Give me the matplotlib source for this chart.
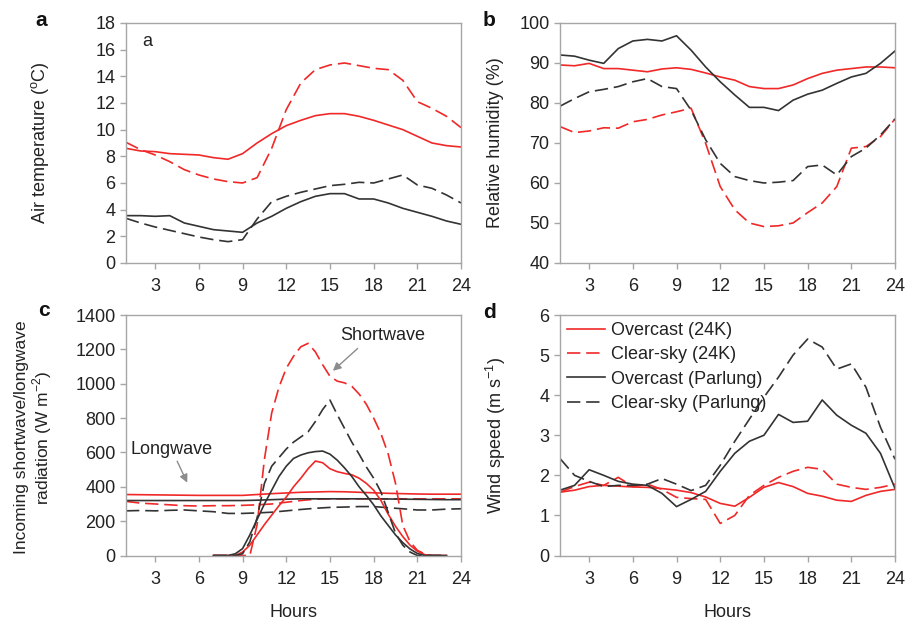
import numpy as np
import matplotlib
matplotlib.use("Agg")
import matplotlib.pyplot as plt

plt.rcParams['font.family'] = ['Liberation Sans', 'DejaVu Sans']
plt.rcParams['mathtext.fontset'] = 'custom'
plt.rcParams['mathtext.rm'] = 'Liberation Sans'

# hourly series, hours 1..24
hours = np.arange(1, 25)

# (a) air temperature, degC
ta_over_24k = [8.6, 8.4, 8.35, 8.2, 8.15, 8.1, 7.9, 7.78, 8.2, 9.0, 9.7, 10.3,
               10.7, 11.05, 11.2, 11.2, 11.0, 10.7, 10.35, 10.0, 9.5, 9.0, 8.8, 8.7]
ta_clear_24k = [9.05, 8.5, 8.1, 7.6, 7.0, 6.6, 6.3, 6.1, 6.0, 6.4, 8.6, 11.5,
                13.5, 14.5, 14.85, 15.0, 14.8, 14.6, 14.5, 13.7, 12.1, 11.6, 11.0, 10.15]
ta_over_parl = [3.55, 3.55, 3.5, 3.55, 3.0, 2.75, 2.5, 2.4, 2.3, 3.0, 3.5, 4.1,
                4.6, 5.0, 5.2, 5.2, 4.8, 4.8, 4.5, 4.1, 3.8, 3.5, 3.15, 2.9]
ta_clear_parl = [3.35, 3.0, 2.7, 2.45, 2.2, 1.95, 1.75, 1.6, 1.75, 3.3, 4.6, 5.0,
                 5.3, 5.55, 5.8, 5.9, 6.05, 6.0, 6.3, 6.6, 5.85, 5.6, 5.1, 4.5]

# (b) relative humidity, %
rh_over_24k = [89.5, 89.3, 89.9, 88.6, 88.6, 88.2, 87.8, 88.5, 88.8, 88.4, 87.5, 86.5,
               85.7, 84.1, 83.6, 83.6, 84.5, 86.1, 87.4, 88.2, 88.6, 89.0, 89.0, 88.8]
rh_clear_24k = [74.1, 72.6, 73.0, 73.8, 73.7, 75.3, 75.9, 77.0, 77.8, 78.7, 69.9, 59.1,
                53.3, 50.0, 49.1, 49.3, 50.0, 52.6, 55.0, 59.1, 68.7, 69.1, 71.6, 76.0]
rh_over_parl = [92.0, 91.7, 90.7, 89.9, 93.6, 95.5, 95.9, 95.5, 96.8, 93.2, 89.0, 85.3,
                82.0, 78.9, 78.9, 78.1, 80.7, 82.2, 83.2, 84.9, 86.5, 87.4, 89.9, 93.0]
rh_clear_parl = [79.2, 81.1, 82.8, 83.4, 84.1, 85.3, 86.1, 84.1, 83.6, 78.2, 70.8, 64.9,
                 61.6, 60.6, 60.0, 60.2, 60.6, 64.1, 64.5, 62.0, 66.6, 68.7, 72.0, 76.0]

# (c) longwave, W m-2 (hourly)
lw_over_24k = [355, 354, 353, 352, 351, 350, 350, 350, 350, 355, 360, 364,
               368, 370, 372, 371, 368, 365, 362, 360, 358, 357, 357, 357]
lw_clear_24k = [315, 305, 300, 295, 290, 288, 290, 290, 292, 295, 300, 310,
                320, 328, 330, 330, 330, 330, 330, 330, 330, 330, 330, 330]
lw_over_parl = [320, 320, 320, 320, 320, 320, 320, 320, 320, 322, 325, 328,
                330, 330, 330, 330, 330, 330, 329, 328, 327, 326, 325, 325]
lw_clear_parl = [260, 262, 260, 263, 265, 260, 255, 245, 245, 248, 252, 260,
                 268, 275, 280, 282, 285, 285, 278, 272, 265, 265, 270, 272]

# (c) shortwave, W m-2 (half-hourly, 7..23 h)
sw_hours = np.arange(7, 23.01, 0.5)
sw_over_24k = [0, 0, 0, 0, 20, 60, 120, 180, 235, 290, 340, 400, 450, 505, 550, 540,
               505, 488, 478, 470, 450, 420, 380, 320, 240, 170, 110, 60, 25, 5, 0, 0, 0]
sw_clear_24k = [0, 0, 0, 0, 0, 0, 180, 560, 830, 980, 1090, 1160, 1215, 1235, 1185, 1110,
                1043, 1015, 1005, 985, 940, 880, 800, 710, 590, 420, 175, 80, 30, 10, 0, 0, 0]
sw_over_parl = [0, 0, 0, 10, 40, 120, 210, 300, 380, 460, 520, 565, 585, 598, 605, 608,
                590, 555, 510, 460, 400, 350, 295, 230, 175, 120, 75, 38, 12, 0, 0, 0, 0]
sw_clear_parl = [0, 0, 0, 0, 10, 80, 220, 420, 520, 570, 620, 660, 690, 720, 780, 850,
                 905, 820, 740, 660, 590, 515, 450, 370, 250, 130, 60, 20, 0, 0, 0, 0, 0]

# (d) wind speed, m s-1
ws_over_24k = [1.58, 1.63, 1.72, 1.75, 1.73, 1.71, 1.70, 1.67, 1.63, 1.57, 1.46, 1.3,
               1.23, 1.45, 1.7, 1.82, 1.72, 1.55, 1.48, 1.38, 1.35, 1.5, 1.6, 1.65]
ws_clear_24k = [1.58, 1.72, 1.83, 1.75, 1.95, 1.72, 1.78, 1.65, 1.45, 1.42, 1.4, 0.8,
                1.0, 1.5, 1.75, 1.95, 2.1, 2.2, 2.15, 1.78, 1.7, 1.65, 1.7, 1.78]
ws_over_parl = [1.63, 1.75, 2.14, 2.0, 1.85, 1.78, 1.75, 1.55, 1.22, 1.4, 1.6, 2.1,
                2.55, 2.85, 3.0, 3.52, 3.32, 3.35, 3.88, 3.5, 3.25, 3.05, 2.55, 1.67]
ws_clear_parl = [2.42, 2.0, 1.85, 1.72, 1.75, 1.75, 1.78, 1.92, 1.78, 1.62, 1.75, 2.25,
                 2.85, 3.4, 3.95, 4.45, 5.0, 5.4, 5.2, 4.65, 4.78, 4.2, 3.2, 2.4]

labels = ['Overcast (24K)', 'Clear-sky (24K)', 'Overcast (Parlung)', 'Clear-sky (Parlung)']

RED = '#f02828'
GREY = '#333333'
SPINE = '#a6a6a6'
TXT = '#222222'
LW = 1.2
DASH = (8, 3.5)
FS = 13

fig = plt.figure(figsize=(9.06, 6.26), dpi=100)
ax_a = fig.add_axes([0.1391, 0.5799, 0.3698, 0.3834])
ax_b = fig.add_axes([0.6181, 0.5799, 0.3698, 0.3834])
ax_c = fig.add_axes([0.1391, 0.1126, 0.3698, 0.3842])
ax_d = fig.add_axes([0.6181, 0.1126, 0.3698, 0.3842])


def four_lines(ax, x, s1, s2, s3, s4, with_labels=False):
    lab = labels if with_labels else [None] * 4
    ax.plot(x, s1, color=RED, lw=LW, label=lab[0])
    ax.plot(x, s2, color=RED, lw=LW, dashes=DASH, label=lab[1])
    ax.plot(x, s3, color=GREY, lw=LW, label=lab[2])
    ax.plot(x, s4, color=GREY, lw=LW, dashes=DASH, label=lab[3])


def style(ax, ylim, yticks):
    ax.set_xlim(1, 24)
    ax.set_xticks(np.arange(3, 25, 3))
    ax.set_ylim(*ylim)
    ax.set_yticks(yticks)
    for sp in ax.spines.values():
        sp.set_color(SPINE)
        sp.set_linewidth(1.0)
    ax.tick_params(colors=SPINE, labelcolor=TXT, labelsize=FS,
                   length=4, width=1.0, direction='out')
    ax.tick_params(axis='x', pad=7)


four_lines(ax_a, hours, ta_over_24k, ta_clear_24k, ta_over_parl, ta_clear_parl)
style(ax_a, (0, 18), np.arange(0, 19, 2))
ax_a.set_ylabel(r'Air temperature ($^{\rm o}$C)', fontsize=FS, color=TXT)
ax_a.yaxis.set_label_coords(-0.225, 0.5)
ax_a.text(2.1, 16.6, 'a', fontsize=FS, color=TXT, va='center')

four_lines(ax_b, hours, rh_over_24k, rh_clear_24k, rh_over_parl, rh_clear_parl)
style(ax_b, (40, 100), np.arange(40, 101, 10))
ax_b.set_ylabel('Relative humidity (%)', fontsize=FS, color=TXT)
ax_b.yaxis.set_label_coords(-0.168, 0.5)

four_lines(ax_c, hours, lw_over_24k, lw_clear_24k, lw_over_parl, lw_clear_parl)
four_lines(ax_c, sw_hours, sw_over_24k, sw_clear_24k, sw_over_parl, sw_clear_parl)
style(ax_c, (0, 1400), np.arange(0, 1401, 200))
ax_c.set_ylabel('Incoming shortwave/longwave\n' + r'radiation (W m$^{-2}$)',
                fontsize=FS - 0.5, color=TXT, linespacing=1.05)
ax_c.yaxis.set_label_coords(-0.215, 0.49)
ax_c.set_xlabel('Hours', fontsize=FS, color=TXT, labelpad=12)
arrow = dict(arrowstyle='-|>', color='#8c8c8c', lw=1.0, mutation_scale=12,
             shrinkA=0, shrinkB=0)
ax_c.text(15.7, 1278, 'Shortwave', fontsize=FS, color=TXT, ha='left', va='center')
ax_c.annotate('', xy=(15.2, 1075), xytext=(16.9, 1205), arrowprops=arrow)
ax_c.annotate('Longwave', xy=(5.2, 424), xytext=(4.15, 565), fontsize=FS,
              color=TXT, ha='center', va='bottom', arrowprops=arrow)

four_lines(ax_d, hours, ws_over_24k, ws_clear_24k, ws_over_parl, ws_clear_parl,
           with_labels=True)
style(ax_d, (0, 6), np.arange(0, 7, 1))
ax_d.set_ylabel(r'Wind speed (m s$^{-1}$)', fontsize=FS, color=TXT)
ax_d.yaxis.set_label_coords(-0.155, 0.5)
ax_d.set_xlabel('Hours', fontsize=FS, color=TXT, labelpad=12)
ax_d.legend(loc='upper left', frameon=False, fontsize=FS, handlelength=2.1,
            handletextpad=0.3, labelspacing=0.4, borderpad=0.2, borderaxespad=0.2,
            labelcolor=TXT)

for lab, (x, y) in zip('abcd', [(41, 21), (489, 21), (44, 310), (489, 313)]):
    fig.text(x / 906, 1 - y / 626, lab, fontsize=15, fontweight='bold',
             ha='center', va='center', color='#111111')

fig.savefig('out.png', dpi=100)
